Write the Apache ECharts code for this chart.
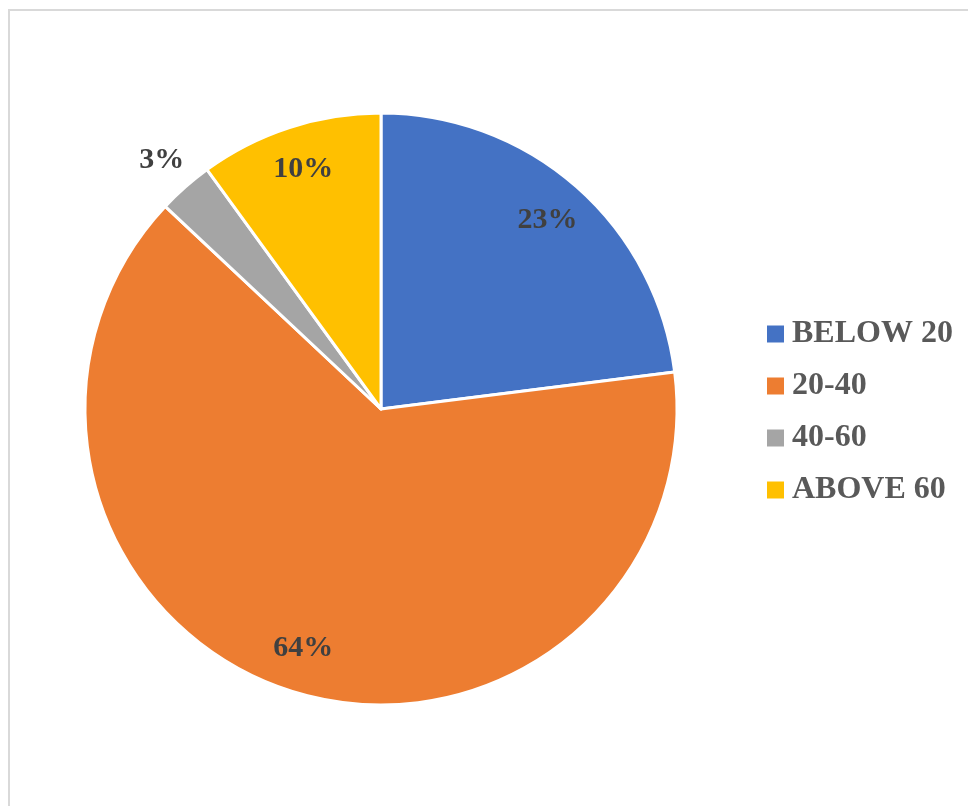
<!DOCTYPE html>
<html>
<head>
<meta charset="utf-8">
<script src="https://cdn.jsdelivr.net/npm/echarts@6/dist/echarts.min.js"></script>
<style>
  html, body { margin: 0; padding: 0; background: #ffffff; }
  #main { width: 968px; height: 806px; }
</style>
</head>
<body>
<div id="main"></div>
<script>
var categories = ['BELOW 20', '20-40', '40-60', 'ABOVE 60'];
var shares = [23, 64, 3, 10];
var colors = ['#4472C4', '#ED7D31', '#A5A5A5', '#FFC000'];
// which label sits outside the pie (the small slice)
var outsideLabel = [false, false, true, false];

var chart = echarts.init(document.getElementById('main'));

var fontFamily = '"Liberation Serif", "Times New Roman", serif';
var cx = 381, cy = 409, r = 296;

function pieData(showFn) {
    return categories.map(function (name, i) {
        return {
            name: name,
            value: shares[i],
            label: { show: showFn(i) }
        };
    });
}

var labelStyle = {
    position: 'inside',
    formatter: '{c}%',
    color: '#404040',
    fontFamily: fontFamily,
    fontWeight: 'bold',
    fontSize: 30
};

var option = {
    animation: false,
    backgroundColor: '#ffffff',
    color: colors,
    graphic: [
        { type: 'line', shape: { x1: 9, y1: 9, x2: 9, y2: 806 }, style: { stroke: '#d9d9d9', lineWidth: 2 } },
        { type: 'line', shape: { x1: 8, y1: 10, x2: 968, y2: 10 }, style: { stroke: '#d9d9d9', lineWidth: 2 } }
    ],
    legend: {
        orient: 'vertical',
        left: 762,
        top: 313,
        icon: 'rect',
        itemWidth: 17,
        itemHeight: 17,
        itemGap: 20,
        itemStyle: { borderWidth: 0 },
        data: categories,
        textStyle: {
            color: '#595959',
            fontFamily: fontFamily,
            fontWeight: 'bold',
            fontSize: 32,
            lineHeight: 32,
            padding: [0, 0, 0, 3]
        }
    },
    series: [
        {
            name: 'main',
            type: 'pie',
            center: [cx, cy],
            radius: [0, r],
            startAngle: 90,
            clockwise: true,
            label: { show: false },
            labelLine: { show: false },
            emphasis: { disabled: true },
            itemStyle: { borderColor: '#ffffff', borderWidth: 3 },
            data: categories.map(function (name, i) {
                return { name: name, value: shares[i] };
            })
        },
        {
            // transparent helper ring so inside labels sit near the rim
            name: 'labelsIn',
            type: 'pie',
            silent: true,
            center: [cx, cy],
            radius: [0, r * 1.68],
            startAngle: 90,
            clockwise: true,
            itemStyle: { color: 'transparent' },
            label: labelStyle,
            labelLine: { show: false },
            emphasis: { disabled: true },
            data: pieData(function (i) { return !outsideLabel[i]; })
        },
        {
            name: 'labelsOut',
            type: 'pie',
            silent: true,
            center: [cx, cy],
            radius: [0, r * 2.22],
            startAngle: 90,
            clockwise: true,
            itemStyle: { color: 'transparent' },
            label: labelStyle,
            labelLine: { show: false },
            emphasis: { disabled: true },
            data: pieData(function (i) { return outsideLabel[i]; })
        }
    ]
};

chart.setOption(option);
</script>
</body>
</html>
